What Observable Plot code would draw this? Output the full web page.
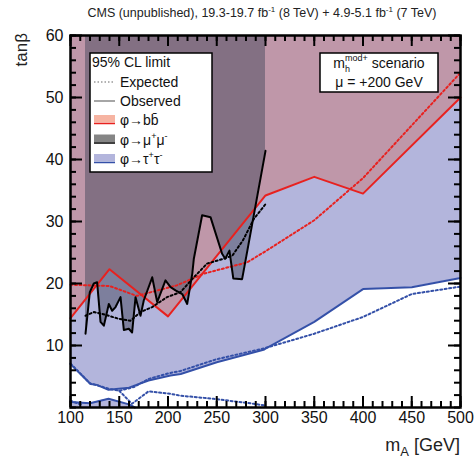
<!DOCTYPE html>
<html><head><meta charset="utf-8">
<script src="https://cdn.jsdelivr.net/npm/d3@7"></script>
<script src="https://cdn.jsdelivr.net/npm/@observablehq/plot@0.6"></script>
<style>body{margin:0;background:#fff;} svg{display:block;}</style>
</head><body><div id="chart"></div>
<script>
// ---- data (m_A in GeV, tanβ) ----
const bbObsM = [100,140,200,300,350,400,500];
const bbObsT = [14.4,22.3,14.7,34.2,37.2,34.5,50];
const bbExpM = [100,140,168,209,237,281,300,350,400,450,500];
const bbExpT = [19.8,19.6,18.0,19.7,21.6,23.4,25.2,30.2,37.0,45.5,54.0];
const mmObsM = [115.4,119.8,123.9,127.3,130.8,134.2,139.3,142.7,146.2,151.3,154.7,159.8,163.2,166.7,171.8,175.2,183.8,188.9,197.4,202.6,207.7,214.6,219.7,224.9,226.5,235,243.6,255.5,258.7,263,267,276,279.5,300];
const mmObsT = [11.9,18.6,20.0,20.2,13.8,13.2,16.7,15.6,16.2,17.8,12.5,12.7,12.1,17.8,14.8,17.3,21.0,17.0,20.5,19.4,18.9,18.3,16.7,21.6,24.0,31.0,30.7,24.8,24.0,25.3,20.8,20.7,23.7,41.4];
const mmExpM = [115.4,124,135,149.5,161.5,171.8,183.8,199,212.8,226.5,240,257,266,277,288,300];
const mmExpT = [14.8,15.4,15.0,14.3,14.0,15.4,16.2,17.8,18.6,21.0,23.2,24.0,24.5,27.0,30.4,32.8];
const ttObsM = [100,120.5,127,139,160,180,202.5,213,250,298,300,350,400,450,500];
const ttObsT = [7.0,3.8,3.65,2.85,3.2,4.35,5.16,5.4,7.3,9.3,9.5,13.8,19.1,19.4,20.9];
const ttLowObsM = [100,120,139,160,166];
const ttLowObsT = [0.9,0.7,1.4,0.5,0];
const ttExpM = [100,120,140,150,165,180,200,213,250,300,350,400,450,500];
const ttExpT = [7.1,3.9,3.0,2.7,3.3,4.6,5.5,5.9,7.8,9.6,11.9,14.6,18.3,19.5];
const ttExpLowM = [150,163,180,203,213,247,288,300];
const ttExpLowT = [2.7,0.6,2.6,2.2,1.9,1.4,0.6,0.3];
const ttExpLow2M = [100,112];
const ttExpLow2T = [1.1,0.4];
const xMajor = [100,150,200,250,300,350,400,450,500];
const xMinor = d3.range(100,501,10);
const yMajor = [10,20,30,40,50,60];
const yMinor = d3.range(0,61,2);

const pts = (M,T) => M.map((m,i)=>({m, t:T[i]}));
const bbObs = pts(bbObsM,bbObsT), bbExp = pts(bbExpM,bbExpT);
const mmObs = pts(mmObsM,mmObsT), mmExp = pts(mmExpM,mmExpT);
const ttObs = pts(ttObsM,ttObsT), ttLow = pts(ttLowObsM,ttLowObsT);
const ttExp = pts(ttExpM,ttExpT), ttExpLow = pts(ttExpLowM,ttExpLowT), ttExpLow2 = pts(ttExpLow2M,ttExpLow2T);

const W=474,H=465,ML=70,MR=14,MT=35,MB=58;
const FH = H-MT-MB, FW = W-ML-MR;
const tauFill="#b3b5dc", bbFill="#cb7976", mmFill="#47495d";
const red="#e8211f", blue="#3450a8";
const font='"Liberation Sans", Arial, Helvetica, sans-serif';
const dots="2,2.5";
const tk = {stroke:"#000", strokeWidth:2};

const plot = Plot.plot({
  width: W, height: H, marginLeft: ML, marginRight: MR, marginTop: MT, marginBottom: MB,
  style: {fontFamily: font, background: "white"},
  x: {domain: [100,500]},
  y: {domain: [0,60]},
  marks: [
    Plot.areaY(ttObs, {x:"m", y1:"t", y2:60, fill: tauFill}),
    Plot.areaY(ttLow, {x:"m", y1:0, y2:"t", fill: tauFill}),
    Plot.areaY(bbObs, {x:"m", y1:"t", y2:60, fill: bbFill, fillOpacity:0.5}),
    Plot.areaY(mmObs, {x:"m", y1:"t", y2:60, fill: mmFill, fillOpacity:0.5}),
    Plot.line(ttExp, {x:"m", y:"t", stroke: blue, strokeWidth:2, strokeDasharray: dots}),
    Plot.line(ttExpLow, {x:"m", y:"t", stroke: blue, strokeWidth:2, strokeDasharray: dots}),
    Plot.line(ttExpLow2, {x:"m", y:"t", stroke: blue, strokeWidth:2, strokeDasharray: dots}),
    Plot.line(ttObs, {x:"m", y:"t", stroke: blue, strokeWidth:2}),
    Plot.line(ttLow, {x:"m", y:"t", stroke: blue, strokeWidth:2}),
    Plot.line(bbExp, {x:"m", y:"t", stroke: red, strokeWidth:2, strokeDasharray: dots}),
    Plot.line(bbObs, {x:"m", y:"t", stroke: red, strokeWidth:2}),
    Plot.line(mmExp, {x:"m", y:"t", stroke: "black", strokeWidth:2, strokeDasharray: dots}),
    Plot.line(mmObs, {x:"m", y:"t", stroke: "black", strokeWidth:2}),
    Plot.frame({stroke:"black", strokeWidth:2.5}),
    // inward ticks on all four sides
    Plot.ruleX(xMajor, {x: d=>d, insetTop: FH-11, ...tk}),
    Plot.ruleX(xMinor, {x: d=>d, insetTop: FH-6, ...tk}),
    Plot.ruleX(xMajor, {x: d=>d, insetBottom: FH-11, ...tk}),
    Plot.ruleX(xMinor, {x: d=>d, insetBottom: FH-6, ...tk}),
    Plot.ruleY(yMajor, {y: d=>d, insetRight: FW-12, ...tk}),
    Plot.ruleY(yMinor, {y: d=>d, insetRight: FW-6, ...tk}),
    Plot.ruleY(yMajor, {y: d=>d, insetLeft: FW-12, ...tk}),
    Plot.ruleY(yMinor, {y: d=>d, insetLeft: FW-6, ...tk}),
    Plot.axisX(xMajor, {tickSize:0, tickPadding:4, fontSize:16, fill:"#111", label:null}),
    Plot.axisY(yMajor, {tickSize:0, tickPadding:7, fontSize:16, fill:"#111", label:null})
  ]
});

const svg = d3.select(plot);
svg.style("font-family", font);
// title
const title = svg.append("text").attr("x",262).attr("y",17).attr("text-anchor","middle")
  .attr("font-size",12.5).attr("fill","#222");
title.append("tspan").text("CMS (unpublished), 19.3-19.7 fb");
title.append("tspan").attr("dy",-5).attr("font-size",8).text("-1");
title.append("tspan").attr("dy",5).text(" (8 TeV) + 4.9-5.1 fb");
title.append("tspan").attr("dy",-5).attr("font-size",8).text("-1");
title.append("tspan").attr("dy",5).text(" (7 TeV)");
// y label
svg.append("text").attr("transform","translate(27,33) rotate(-90)").attr("text-anchor","end")
  .attr("font-size",17).attr("fill","#222").text("tanβ");
// x label
const xl = svg.append("text").attr("x",460).attr("y",451).attr("text-anchor","end").attr("font-size",18).attr("fill","#222");
xl.append("tspan").text("m");
xl.append("tspan").attr("dy",5).attr("font-size",13).text("A");
xl.append("tspan").attr("dy",-5).text(" [GeV]");

// legend
const lg = svg.append("g").attr("font-size",14).attr("fill","#111").attr("text-anchor","start");
lg.append("rect").attr("x",90).attr("y",53).attr("width",122).attr("height",119).attr("fill","white").attr("stroke","black").attr("stroke-width",1.5);
lg.append("text").attr("x",92).attr("y",67).text("95% CL limit");
lg.append("line").attr("x1",94).attr("x2",115).attr("y1",82).attr("y2",82).attr("stroke","#999").attr("stroke-width",1.5).attr("stroke-dasharray","1.5,2");
lg.append("text").attr("x",120).attr("y",87).text("Expected");
lg.append("line").attr("x1",94).attr("x2",115).attr("y1",101).attr("y2",101).attr("stroke","#888").attr("stroke-width",1.5);
lg.append("text").attr("x",120).attr("y",106).text("Observed");
const sw = [
  {y:115, fill:"#f6b4a2", line:red, bb:true},
  {y:134.5, fill:"#858585", line:"black", sup:["μ","+","μ","-"]},
  {y:154, fill:"#b3b5dc", line:blue, sup:["τ","+","τ","-"]}
];
sw.forEach(s=>{
  lg.append("rect").attr("x",94).attr("y",s.y).attr("width",21).attr("height",7.5).attr("fill",s.fill);
  lg.append("line").attr("x1",94).attr("x2",115).attr("y1",s.y+8.5).attr("y2",s.y+8.5).attr("stroke",s.line).attr("stroke-width",1.5);
  const t = lg.append("text").attr("x",120).attr("y",s.y+10);
  if (s.bb) { t.append("tspan").text("φ→bb̄"); }
  else {
    t.append("tspan").text("φ→"+s.sup[0]);
    t.append("tspan").attr("dy",-6).attr("font-size",9).text(s.sup[1]);
    t.append("tspan").attr("dy",6).text(s.sup[2]);
    t.append("tspan").attr("dy",-6).attr("font-size",9).text(s.sup[3]);
  }
});
// scenario box
const sb = svg.append("g").attr("font-size",14).attr("fill","#111").attr("text-anchor","middle");
sb.append("rect").attr("x",320).attr("y",53).attr("width",118).attr("height",39).attr("fill","white").attr("stroke","black").attr("stroke-width",1.5);
const s1 = sb.append("text").attr("x",379).attr("y",68);
s1.append("tspan").text("m");
s1.append("tspan").attr("dy",4).attr("font-size",9).text("h");
s1.append("tspan").attr("dx",-5).attr("dy",-11).attr("font-size",9).text("mod+");
s1.append("tspan").attr("dy",7).text(" scenario");
sb.append("text").attr("x",379).attr("y",87).text("μ = +200 GeV");

document.getElementById("chart").appendChild(plot);
</script>
</body></html>
